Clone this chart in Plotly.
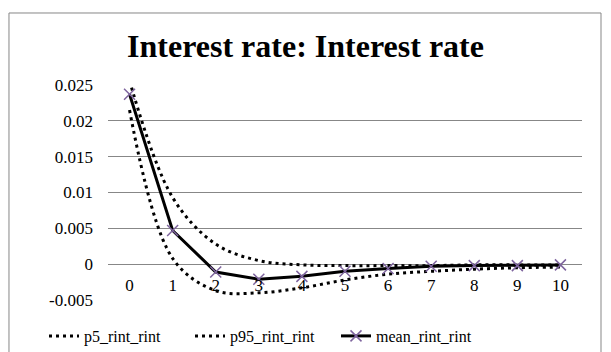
import plotly.graph_objects as go

horizon = list(range(11))
p5_rint = [0.0215, 0.0008, -0.0037, -0.0040, -0.0033, -0.0022, -0.0014, -0.0010, -0.0007, -0.0005, -0.0004]
p95_rint = [0.0256, 0.0093, 0.0028, 0.0005, -0.0001, -0.0002, -0.0002, -0.0002, -0.0001, -0.0001, -0.0001]
mean_rint = [0.0237, 0.0047, -0.0011, -0.0021, -0.0017, -0.0010, -0.0006, -0.0003, -0.0002, -0.0002, -0.0001]
y_ticks = [-0.005, 0, 0.005, 0.01, 0.015, 0.02, 0.025]
y_labels = ["-0.005", "0", "0.005", "0.01", "0.015", "0.02", "0.025"]

font = "Liberation Serif, Times New Roman, serif"
grid = "#878787"

fig = go.Figure()
fig.add_trace(go.Scatter(x=horizon, y=p5_rint, name="p5_rint_rint", mode="lines",
                         line=dict(color="black", width=3, dash="3px,4px", shape="spline")))
fig.add_trace(go.Scatter(x=horizon, y=p95_rint, name="p95_rint_rint", mode="lines",
                         line=dict(color="black", width=3, dash="3px,4px", shape="spline")))
fig.add_trace(go.Scatter(x=horizon, y=mean_rint, name="mean_rint_rint", mode="lines+markers",
                         line=dict(color="black", width=3),
                         marker=dict(symbol="x-thin", size=11, line=dict(color="#7E649E", width=1.5))))

fig.update_layout(
    width=611, height=352,
    margin=dict(l=108, r=29, t=85, b=52),
    paper_bgcolor="white", plot_bgcolor="white",
    font=dict(family=font, color="black", size=17),
    title=dict(text="<b>Interest rate: Interest rate</b>", x=0.5, xanchor="center",
               y=1 - 46 / 352, yanchor="middle", font=dict(size=32, family=font)),
    showlegend=True,
    legend=dict(orientation="h", xref="container", x=44 / 611, xanchor="left",
                yref="container", y=(352 - 336) / 352, yanchor="middle",
                font=dict(size=16, family=font), itemwidth=30, entrywidth=101,
                bgcolor="rgba(0,0,0,0)"),
    shapes=[dict(type="rect", xref="paper", yref="paper", x0=-0.2089, x1=1.0401,
                 y0=-0.3, y1=1.3349, line=dict(color=grid, width=1), layer="above")],
)

fig.update_xaxes(range=[-0.5, 10.5], tickvals=horizon, showgrid=False, zeroline=False,
                 showline=False, ticks="", anchor="free", position=36 / 215,
                 ticklabelstandoff=9, tickfont=dict(size=17, family=font), automargin=False)
fig.update_yaxes(range=[-0.005, 0.025], tickvals=y_ticks, ticktext=y_labels,
                 showgrid=True, gridcolor=grid, gridwidth=1, zeroline=False,
                 showline=False, ticks="", ticklabelstandoff=14,
                 tickfont=dict(size=17, family=font), automargin=False)

fig.write_html("out.html", config={"displayModeBar": False},
               post_script="document.body.style.margin='0';")
